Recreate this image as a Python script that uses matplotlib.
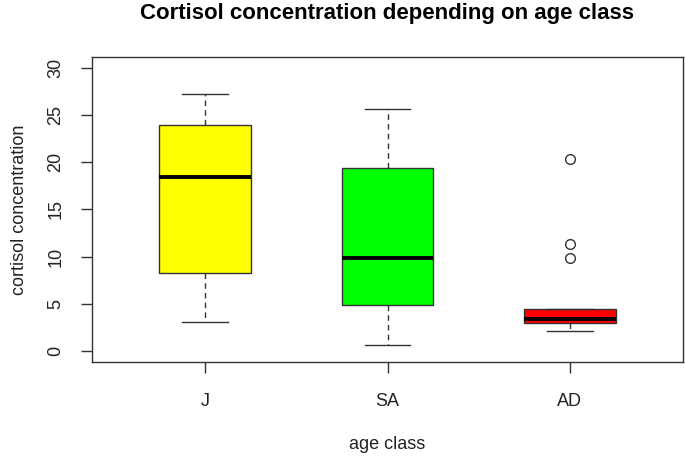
import matplotlib
matplotlib.use("Agg")
import matplotlib.pyplot as plt

categories = ["J", "SA", "AD"]
whisker_low = [3.1, 0.6, 2.05]
q1 = [8.3, 4.85, 2.95]
median = [18.4, 9.9, 3.4]
q3 = [24.0, 19.4, 4.4]
whisker_high = [27.3, 25.7, 4.4]
outliers = [[], [], [20.4, 11.3, 9.9]]
colors = ["#FFFF00", "#00FF00", "#FF0000"]

plt.rcParams["font.family"] = ["Liberation Sans", "DejaVu Sans"]

fig = plt.figure(figsize=(6.85, 4.58), dpi=100)
ax = fig.add_axes([92/685, 1-362/458, (683-92)/685, (362-57)/458])

stats = []
for i, c in enumerate(categories):
    stats.append(dict(label=c, whislo=whisker_low[i], q1=q1[i], med=median[i],
                      q3=q3[i], whishi=whisker_high[i], fliers=outliers[i]))

edge = "#333333"
bp = ax.bxp(stats, positions=[1, 2, 3], widths=0.5, patch_artist=True,
            capwidths=0.25,
            boxprops=dict(edgecolor=edge, linewidth=1.0),
            medianprops=dict(color="black", linewidth=2.8, solid_capstyle="butt"),
            whiskerprops=dict(color=edge, linewidth=1.0, linestyle=(0, (4, 3))),
            capprops=dict(color=edge, linewidth=1.0),
            flierprops=dict(marker="o", markersize=7, markerfacecolor="white",
                            markeredgecolor=edge, markeredgewidth=1.0))
for patch, col in zip(bp["boxes"], colors):
    patch.set_facecolor(col)

ax.set_xlim(0.38, 3.62)
ax.set_ylim(-1.2, 31.2)
ax.set_yticks([0, 5, 10, 15, 20, 25, 30])
ax.set_xticks([1, 2, 3])
ax.set_xticklabels(categories)
for lab in ax.get_yticklabels():
    lab.set_rotation(90)
    lab.set_va("center")
ax.tick_params(axis="both", labelsize=13, length=8, width=1.0, color=edge,
               labelcolor="#222222")
ax.tick_params(axis="x", pad=14)
ax.tick_params(axis="y", pad=12)
for s in ax.spines.values():
    s.set_color(edge)
    s.set_linewidth(1.0)

ax.set_xlabel("age class", fontsize=13, color="#222222", labelpad=19)
ax.set_ylabel("cortisol concentration", fontsize=13, color="#222222", labelpad=14)
ax.set_title("Cortisol concentration depending on age class", fontsize=16,
             fontweight="bold", pad=27)

fig.savefig("out.png", dpi=100)
